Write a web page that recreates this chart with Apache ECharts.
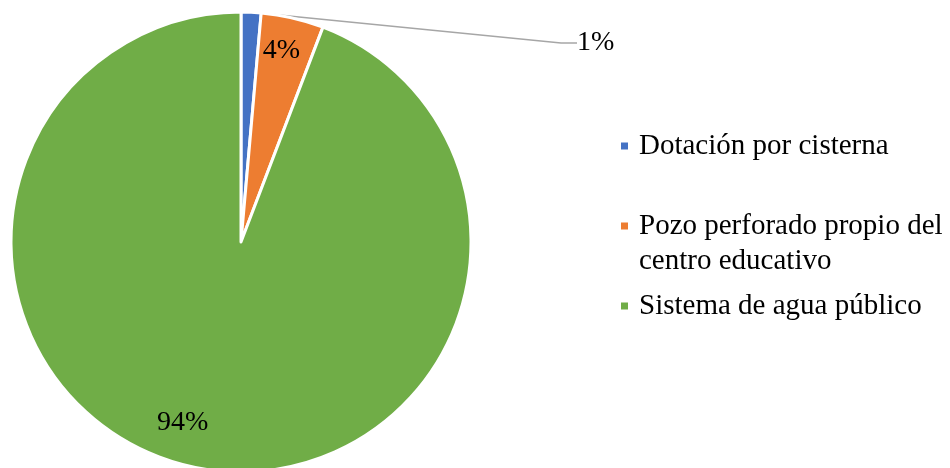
<!DOCTYPE html>
<html>
<head>
<meta charset="utf-8">
<script src="https://cdn.jsdelivr.net/npm/echarts@6/dist/echarts.min.js"></script>
<style>
  html, body { margin: 0; padding: 0; background: #fff; }
  #chart { width: 950px; height: 468px; }
</style>
</head>
<body>
<div id="chart"></div>
<script>
// fuente de abastecimiento de agua
var categories = ["Dotación por cisterna", "Pozo perforado propio del centro educativo", "Sistema de agua público"];
var legendNames = ["Dotación por cisterna", "\nPozo perforado propio del\ncentro educativo", "Sistema de agua público"];
var values = [1.4, 4.4, 94.2];
var colors = ["#4472C4", "#ED7D31", "#70AD47"];

var chart = echarts.init(document.getElementById("chart"));

// label offsets (style only)
var labelOffsets = [[0, 0], [14, -76], [-37, 65]];

var pieData = categories.map(function (name, i) {
  var item = {
    name: name,
    value: values[i],
    itemStyle: { color: colors[i] },
  };
  if (i === 0) {
    item.label = { position: "outside" };
    item.labelLine = { show: true };
  } else {
    item.label = { position: "inside", offset: labelOffsets[i] };
    item.labelLine = { show: false };
  }
  return item;
});

var option = {
  animation: false,
  backgroundColor: "#fff",
  legend: {
    orient: "vertical",
    left: 619,
    top: 128.5,
    padding: 0,
    itemGap: 10,
    itemWidth: 9,
    itemHeight: 9,
    icon: "rect",
    selectedMode: false,
    formatter: function (name) {
      return legendNames[categories.indexOf(name)];
    },
    textStyle: {
      fontFamily: "Liberation Serif",
      fontSize: 29,
      lineHeight: 35,
      color: "#000",
      padding: [0, 0, 0, 5],
    },
    data: categories,
  },
  series: [
    {
      type: "pie",
      center: [241, 242],
      radius: 230,
      startAngle: 90,
      clockwise: true,
      avoidLabelOverlap: false,
      emphasis: { disabled: true },
      itemStyle: { borderColor: "#fff", borderWidth: 3 },
      label: {
        fontFamily: "Liberation Serif",
        fontSize: 28,
        color: "#000",
        formatter: function (p) {
          return Math.round(p.percent) + "%";
        },
      },
      labelLine: {
        length: 10,
        length2: 16,
        lineStyle: { color: "#A6A6A6", width: 1.5 },
      },
      labelLayout: function (params) {
        if (params.dataIndex === 0) {
          return { x: 577, y: 43, align: "left", verticalAlign: "middle" };
        }
      },
      data: pieData,
    },
  ],
};

option && chart.setOption(option);
</script>
</body>
</html>
